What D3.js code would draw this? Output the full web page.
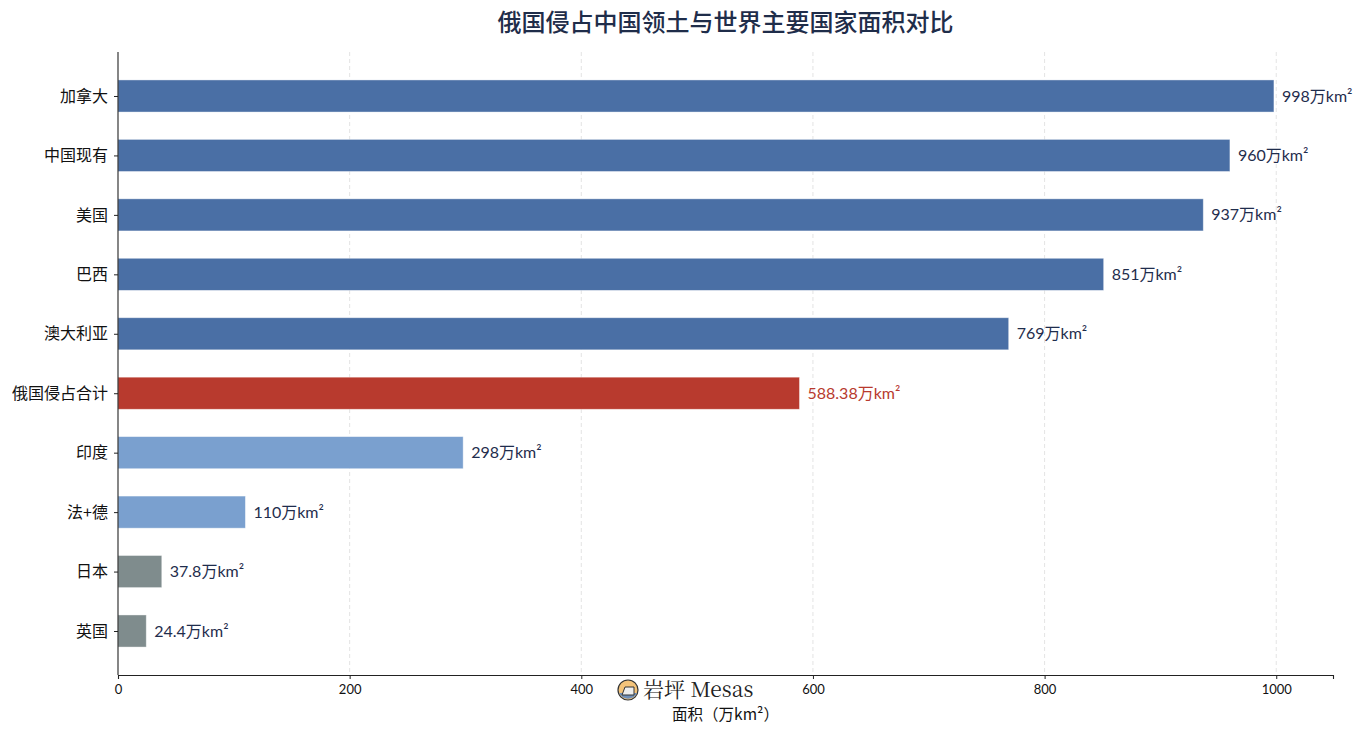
<html>
<head>
<meta charset="utf-8">
<title>俄国侵占中国领土与世界主要国家面积对比</title>
<style>
  body { margin: 0; background: #fff; }
</style>
</head>
<body>
<script src="https://cdn.jsdelivr.net/npm/d3@7/dist/d3.min.js"></script>
<script>

// 数据
var countries = ["加拿大", "中国现有", "美国", "巴西", "澳大利亚", "俄国侵占合计", "印度", "法+德", "日本", "英国"];
var areas     = [998, 960, 937, 851, 769, 588.38, 298, 110, 37.8, 24.4];
var valueText = ["998", "960", "937", "851", "769", "588.38", "298", "110", "37.8", "24.4"];
var groups    = ["big", "big", "big", "big", "big", "russia", "mid", "mid", "small", "small"];
var xTicks    = [0, 200, 400, 600, 800, 1000];

var colors = { big: "#4a6fa5", russia: "#b83a2e", mid: "#7aa0cf", small: "#7f8c8d" };

var width = 1366, height = 731;
var margin = { top: 52, right: 33, bottom: 56, left: 118 };

var svg = d3.select("body").append("svg")
    .attr("width", width)
    .attr("height", height);

var x = d3.scaleLinear()
    .domain([0, 1049])
    .range([margin.left, width - margin.right]);

var y = d3.scalePoint()
    .domain(countries)
    .range([margin.top, height - margin.bottom])
    .padding(0.74);

var barH = y.step() * 0.54;

// 格線
svg.append("g")
    .selectAll("line")
    .data(xTicks.slice(1))
    .enter().append("line")
    .attr("x1", function(d){ return x(d); })
    .attr("x2", function(d){ return x(d); })
    .attr("y1", margin.top)
    .attr("y2", height - margin.bottom)
    .attr("stroke", "#dcdcdc")
    .attr("stroke-width", 0.8)
    .attr("stroke-dasharray", "4,3");

// 長條
svg.append("g")
    .selectAll("rect")
    .data(countries)
    .enter().append("rect")
    .attr("x", x(0))
    .attr("y", function(d){ return y(d) - barH / 2; })
    .attr("width", function(d, i){ return x(areas[i]) - x(0); })
    .attr("height", barH)
    .attr("fill", function(d, i){ return colors[groups[i]]; })
    .attr("stroke", "#ffffff")
    .attr("stroke-opacity", 0.5)
    .attr("stroke-width", 0.8);

// 數值標籤
svg.append("g")
    .selectAll("text")
    .data(countries)
    .enter().append("text")
    .attr("x", function(d, i){ return x(areas[i]) + 8; })
    .attr("y", function(d){ return y(d); })
    .attr("dy", "0.35em")
    .attr("font-family", "Lato, 'Noto Sans CJK SC', sans-serif")
    .attr("font-size", "16px")
    .attr("fill", function(d, i){ return groups[i] === "russia" ? "#b83a2e" : "#1f2d4d"; })
    .text(function(d, i){ return valueText[i] + "万km²"; });

// X 軸
var xAxis = svg.append("g")
    .attr("transform", "translate(0," + (height - margin.bottom) + ")")
    .call(d3.axisBottom(x).tickValues(xTicks).tickFormat(d3.format("d")).tickSize(4).tickPadding(6));
xAxis.select(".domain").attr("stroke", "#222").attr("stroke-width", 1.1);
xAxis.selectAll(".tick line").attr("stroke", "#222");
xAxis.selectAll("text")
    .attr("font-family", "Lato, 'Noto Sans', sans-serif")
    .attr("font-size", "13px")
    .attr("fill", "#111");

// Y 軸
var yAxis = svg.append("g")
    .attr("transform", "translate(" + margin.left + ",0)")
    .call(d3.axisLeft(y).tickSize(4).tickPadding(6));
yAxis.select(".domain").attr("stroke", "#222").attr("stroke-width", 1.1)
    .attr("d", "M0," + margin.top + "V" + (height - margin.bottom));
yAxis.selectAll(".tick line").attr("stroke", "#222");
yAxis.selectAll("text")
    .attr("font-family", "'Noto Sans CJK SC', sans-serif")
    .attr("font-size", "16px")
    .attr("fill", "#111");

// 標題
svg.append("text")
    .attr("x", (margin.left + width - margin.right) / 2)
    .attr("y", 31)
    .attr("text-anchor", "middle")
    .attr("font-family", "'Noto Sans CJK SC', sans-serif")
    .attr("font-size", "24px")
    .attr("font-weight", "500")
    .attr("fill", "#1f2d4a")
    .text("俄国侵占中国领土与世界主要国家面积对比");

// X 軸標題
svg.append("text")
    .attr("x", (margin.left + width - margin.right) / 2)
    .attr("y", 720)
    .attr("text-anchor", "middle")
    .attr("font-family", "'Noto Sans CJK SC', sans-serif")
    .attr("font-size", "15.5px")
    .attr("fill", "#111")
    .text("面积（万km²）");

// 浮水印
var logo = svg.append("g").attr("transform", "translate(628,690)");
logo.append("circle").attr("r", 10).attr("fill", "#f3c37a").attr("stroke", "#333").attr("stroke-width", 1.2);
logo.append("path").attr("d", "M-9,3 A10,10 0 0 0 9,3 Z").attr("fill", "#6f8fb8");
logo.append("path").attr("d", "M-6,5 L-3,-3 L6,-3 L6,5 Z").attr("fill", "#eee").attr("stroke", "#333").attr("stroke-width", 1);
logo.append("text")
    .attr("x", 15)
    .attr("y", 7)
    .attr("font-family", "'Noto Serif CJK SC', 'DejaVu Serif', 'Liberation Serif', serif")
    .attr("font-size", "21px")
    .attr("fill", "#222")
    .text("岩坪 Mesas");

</script>
</body>
</html>
